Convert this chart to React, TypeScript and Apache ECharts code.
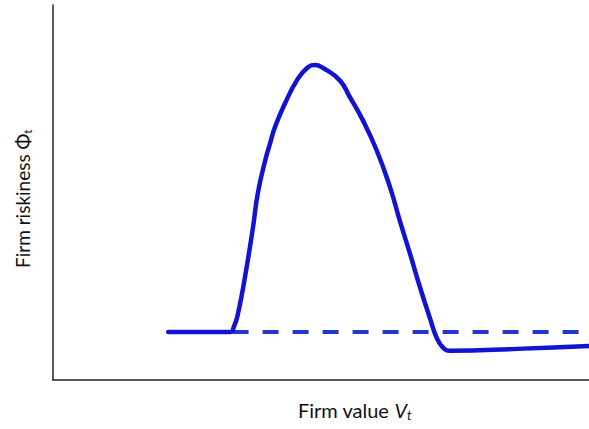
import React, { useEffect, useRef } from "react";
import * as echarts from "echarts";

// Firm value (x) and firm riskiness (y), in arbitrary units (0–100)
const curveX = [21.5, 33.0, 33.8, 34.5, 35.8, 37.3, 38.2, 39.6, 40.5, 41.4, 43.3, 45.5, 47.4, 48.9, 50.4, 53.5, 55.4, 57.8, 60.4, 62.9, 64.7, 66.6, 68.5, 70.3, 71.6, 72.8, 74.1, 86.6, 100];
const curveY = [12.8, 12.8, 14.4, 17.6, 27.3, 40.6, 49.7, 58.6, 63.1, 67.4, 73.8, 79.9, 83.2, 84.0, 83.2, 79.9, 75.4, 69.3, 61.2, 51.3, 42.5, 33.7, 24.6, 16.6, 11.2, 8.6, 7.8, 8.3, 9.1];
const dashX = [33.5, 100];
const dashY = [12.8, 12.8];

const xLabel = "Firm value ";
const yLabel = "Firm riskiness ";

export default function App() {
  const ref = useRef<HTMLDivElement>(null);
  useEffect(() => {
    if (!ref.current) return;
    const chart = echarts.init(ref.current, null, { renderer: "svg" });
    const font = "Lato, 'Open Sans', sans-serif";
    chart.setOption({
      animation: false,
      backgroundColor: "#ffffff",
      grid: { left: 53, right: 0, top: 5, bottom: 49 },
      xAxis: {
        type: "value",
        min: 0,
        max: 100,
        axisLine: { show: true, onZero: false, lineStyle: { color: "#222", width: 1.5 } },
        axisTick: { show: false },
        axisLabel: { show: false },
        splitLine: { show: false },
      },
      yAxis: {
        type: "value",
        min: 0,
        max: 100,
        axisLine: { show: true, onZero: false, lineStyle: { color: "#222", width: 1.5 } },
        axisTick: { show: false },
        axisLabel: { show: false },
        splitLine: { show: false },
      },
      series: [
        {
          type: "line",
          data: dashX.map((x, i) => [x, dashY[i]]),
          symbol: "none",
          lineStyle: { color: "#2536cf", width: 4, type: [16, 14] },
          z: 1,
        },
        {
          type: "line",
          data: curveX.map((x, i) => [x, curveY[i]]),
          symbol: "none",
          smooth: 0.5,
          lineStyle: { color: "#1212d4", width: 4.5, cap: "round", join: "round" },
          z: 2,
        },
      ],
      graphic: [
        {
          type: "text",
          left: 298,
          top: 400,
          style: {
            text: `{n|${xLabel}}{i|V}{s|t}`,
            rich: {
              n: { fontFamily: font, fontSize: 20, fill: "#111" },
              i: { fontFamily: font, fontSize: 20, fontStyle: "italic", fill: "#111" },
              s: { fontFamily: font, fontSize: 13, fontStyle: "italic", fill: "#111", padding: [9, 0, 0, 0] },
            },
          },
        },
        {
          type: "text",
          x: 12,
          y: 268,
          rotation: Math.PI / 2,
          style: {
            text: `{n|${yLabel}Φ}{s|t}`,
            rich: {
              n: { fontFamily: font, fontSize: 19, fill: "#111" },
              s: { fontFamily: font, fontSize: 12, fill: "#111", padding: [9, 0, 0, 0] },
            },
          },
        },
      ],
    });
    return () => chart.dispose();
  }, []);
  return (
    <div
      ref={ref}
      style={{ position: "fixed", left: 0, top: 0, width: 589, height: 429 }}
    />
  );
}
